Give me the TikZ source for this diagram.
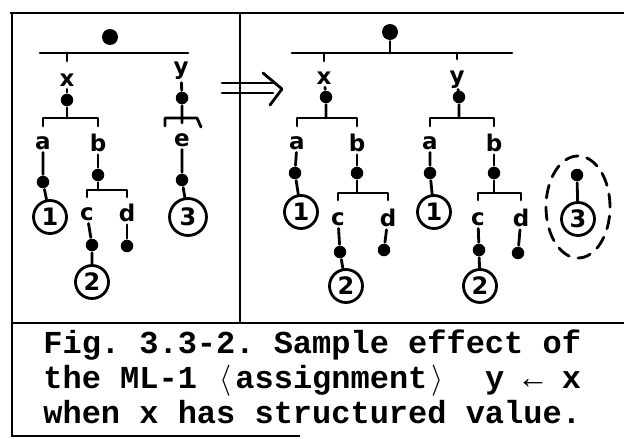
\documentclass[tikz,border=0pt]{standalone}
\usepackage{fontspec}
\usepackage{graphicx}
\setmainfont{Liberation Mono}
\newfontfamily\hand{DejaVu Sans}
\usetikzlibrary{calc,shapes.geometric}
\frenchspacing
\begin{document}
\begin{tikzpicture}[x=1pt,y=-1pt,line width=2.8pt,line cap=round,line join=round,
  dot/.style={circle,fill,inner sep=0pt,minimum size=12.5pt},
  rootdot/.style={circle,fill,inner sep=0pt,minimum size=16pt},
  lbl/.style={font=\hand\bfseries\fontsize{23}{23}\selectfont,inner sep=1.5pt},
  val/.style={circle,draw,line width=2.8pt,minimum size=33pt,inner sep=0pt,font=\hand\bfseries\fontsize{24}{24}\selectfont},
  framel/.style={line width=2.4pt,line cap=butt},
  captxt/.style={anchor=base west,inner sep=0pt,font=\bfseries\fontsize{32}{35}\selectfont}]
\useasboundingbox[fill=white] (0,0) rectangle (624,439);
% frame
\coordinate (FTL) at (10,13);
\coordinate (FTR) at (624,13);
\coordinate (FBL) at (12,437);
\coordinate (FDT) at (240,13);
\coordinate (FDB) at (240,323);
\coordinate (FML) at (12,323);
\coordinate (FMR) at (624,323);
\coordinate (FBR) at (300,436);
\draw[framel] (FTL) -- (FTR);
\draw[framel] (12,13) -- (FBL);
\draw[framel] (FDT) -- (FDB);
\draw[framel] (FML) -- (FMR);
\draw[framel] (12,436) -- (FBR);

% ---------- left tree ----------
\node[rootdot] (Lr) at (110,37) {};
\coordinate (Lbar1) at (40,53);
\coordinate (Lbar2) at (188,53);
\draw (Lbar1) -- (Lbar2);
\node[lbl] (Lx) at (67,80) {x};
\draw (Lx |- Lbar1) -- ++(0,8);
\node[dot] (Lxd) at (67,100) {};
\coordinate (Lb1) at (67,118);
\draw (Lx) -- (Lxd) -- (Lb1);
\node[lbl] (La) at (43,143) {a};
\node[lbl] (Lb) at (98,143) {b};
\draw ($(Lb1 -| La)+(0,8)$) |- (Lb1) -| ($(Lb1 -| Lb)+(0,8)$);
\node[dot] (Lad) at (43,182) {};
\node[val] (L1) at (50,217) {1};
\draw (La) -- (Lad) -- (L1);
\node[dot] (Lbd) at (98,175) {};
\coordinate (Lb2) at (98,190);
\draw (Lb) -- (Lbd) -- (Lb2);
\node[lbl] (Lc) at (87,214) {c};
\node[lbl] (Ld) at (127,213) {d};
\draw ($(Lb2 -| Lc)+(0,7)$) |- (Lb2) -| ($(Lb2 -| Ld)+(0,7)$);
\node[dot] (Lcd) at (92,245) {};
\node[val] (L2) at (92,282) {2};
\draw (Lc) -- (Lcd) -- (L2);
\node[dot] (Ldd) at (127,246) {};
\draw (Ld) -- (Ldd);
\node[lbl] (Ly) at (181,71) {y};
\node[dot] (Lyd) at (182,98) {};
\coordinate (Lf) at (182,118);
\draw (Ly) -- (Lyd) -- ($(Lf)+(0,5)$);
\draw ($(Lf)+(-17,8)$) -- ($(Lf)+(-17,0)$) -- ($(Lf)+(15,0)$) -- ($(Lf)+(19,9)$);
\node[lbl] (Le) at (182,140) {e};
\node[dot] (Led) at (182,180) {};
\node[val,minimum size=37pt] (L3) at (188,217) {3};
\draw (Le) -- (Led) -- (L3);

% ---------- arrow ----------
\coordinate (A1) at (222,83);
\coordinate (A2) at (273,83);
\coordinate (A3) at (222,93);
\coordinate (A4) at (273,93);
\coordinate (At) at (263,73);
\coordinate (Ap) at (282,89);
\coordinate (Ab) at (270,105);
\draw (A1) -- (A2);
\draw (A3) -- (A4);
\draw (At) -- (Ap) -- (Ab);

% ---------- right tree ----------
\node[rootdot] (Rr) at (390,32) {};
\coordinate (Rbar1) at (292,53);
\coordinate (Rbar2) at (512,53);
\coordinate (Rbm) at (390,53);
\draw (Rbar1) -- (Rbar2);
\draw (Rr) -- (Rbm);
% x subtree
\node[lbl] (Rx) at (324,78) {x};
\draw (Rx |- Rbar1) -- ++(0,8);
\node[dot] (Rxd) at (326,97) {};
\coordinate (Rb1) at (326,118);
\draw (Rx) -- (Rxd) -- (Rb1);
\node[lbl] (Ra) at (297,143) {a};
\node[lbl] (Rb) at (357,143) {b};
\draw ($(Rb1 -| Ra)+(0,8)$) |- (Rb1) -| ($(Rb1 -| Rb)+(0,8)$);
\node[dot] (Rad) at (295,173) {};
\node[val] (R1) at (301,212) {1};
\draw (Ra) -- (Rad) -- (R1);
\node[dot] (Rbd) at (357,173) {};
\coordinate (Rb2) at (357,193);
\draw (Rb) -- (Rbd) -- (Rb2);
\node[lbl] (Rc) at (338,219) {c};
\node[lbl] (Rd) at (388,218) {d};
\draw ($(Rb2 -| Rc)+(0,7)$) |- (Rb2) -| ($(Rb2 -| Rd)+(0,7)$);
\node[dot] (Rcd) at (340,252) {};
\node[val] (R2) at (346,286) {2};
\draw (Rc) -- (Rcd) -- (R2);
\node[dot] (Rdd) at (384,250) {};
\draw (Rd) -- (Rdd);
% y subtree
\node[lbl] (Ry) at (457,80) {y};
\draw (Ry |- Rbar1) -- ++(0,6);
\node[dot] (Ryd) at (459,97) {};
\coordinate (Rb3) at (459,118);
\draw (Ry) -- (Ryd) -- (Rb3);
\node[lbl] (Rya) at (430,143) {a};
\node[lbl] (Ryb) at (494,143) {b};
\draw ($(Rb3 -| Rya)+(0,8)$) |- (Rb3) -| ($(Rb3 -| Ryb)+(0,8)$);
\node[dot] (Ryad) at (430,173) {};
\node[val] (Ry1) at (434,212) {1};
\draw (Rya) -- (Ryad) -- (Ry1);
\node[dot] (Rybd) at (494,173) {};
\coordinate (Rb4) at (494,193);
\draw (Ryb) -- (Rybd) -- (Rb4);
\node[lbl] (Ryc) at (478,219) {c};
\node[lbl] (Ryd2) at (521,218) {d};
\draw ($(Rb4 -| Ryc)+(0,7)$) |- (Rb4) -| ($(Rb4 -| Ryd2)+(0,7)$);
\node[dot] (Rycd) at (479,250) {};
\node[val] (Ry2) at (480,286) {2};
\draw (Ryc) -- (Rycd) -- (Ry2);
\node[dot] (Rydd) at (518,253) {};
\draw (Ryd2) -- (Rydd);
% orphaned value 3
\node[draw,ellipse,line width=2.8pt,dash pattern=on 13pt off 9pt,minimum width=64pt,minimum height=102pt,inner sep=0pt] (E) at (578,207) {};
\node[dot] (Od) at (577,175) {};
\node[val] (O3) at (578,219) {3};
\draw (Od) -- (O3);

% ---------- caption ----------
\node[captxt] (c1) at (42,353) {Fig. 3.3-2. Sample effect of};
\node[captxt] (c2) at (42,388) {the ML-1 \makebox[0.6em]{\scalebox{1.25}{$\langle$}}assignment\makebox[0.6em]{\scalebox{1.25}{$\rangle$}}\ \ y ← x};
\node[captxt] (c3) at (42,423) {when x has structured value.};
\end{tikzpicture}
\end{document}
